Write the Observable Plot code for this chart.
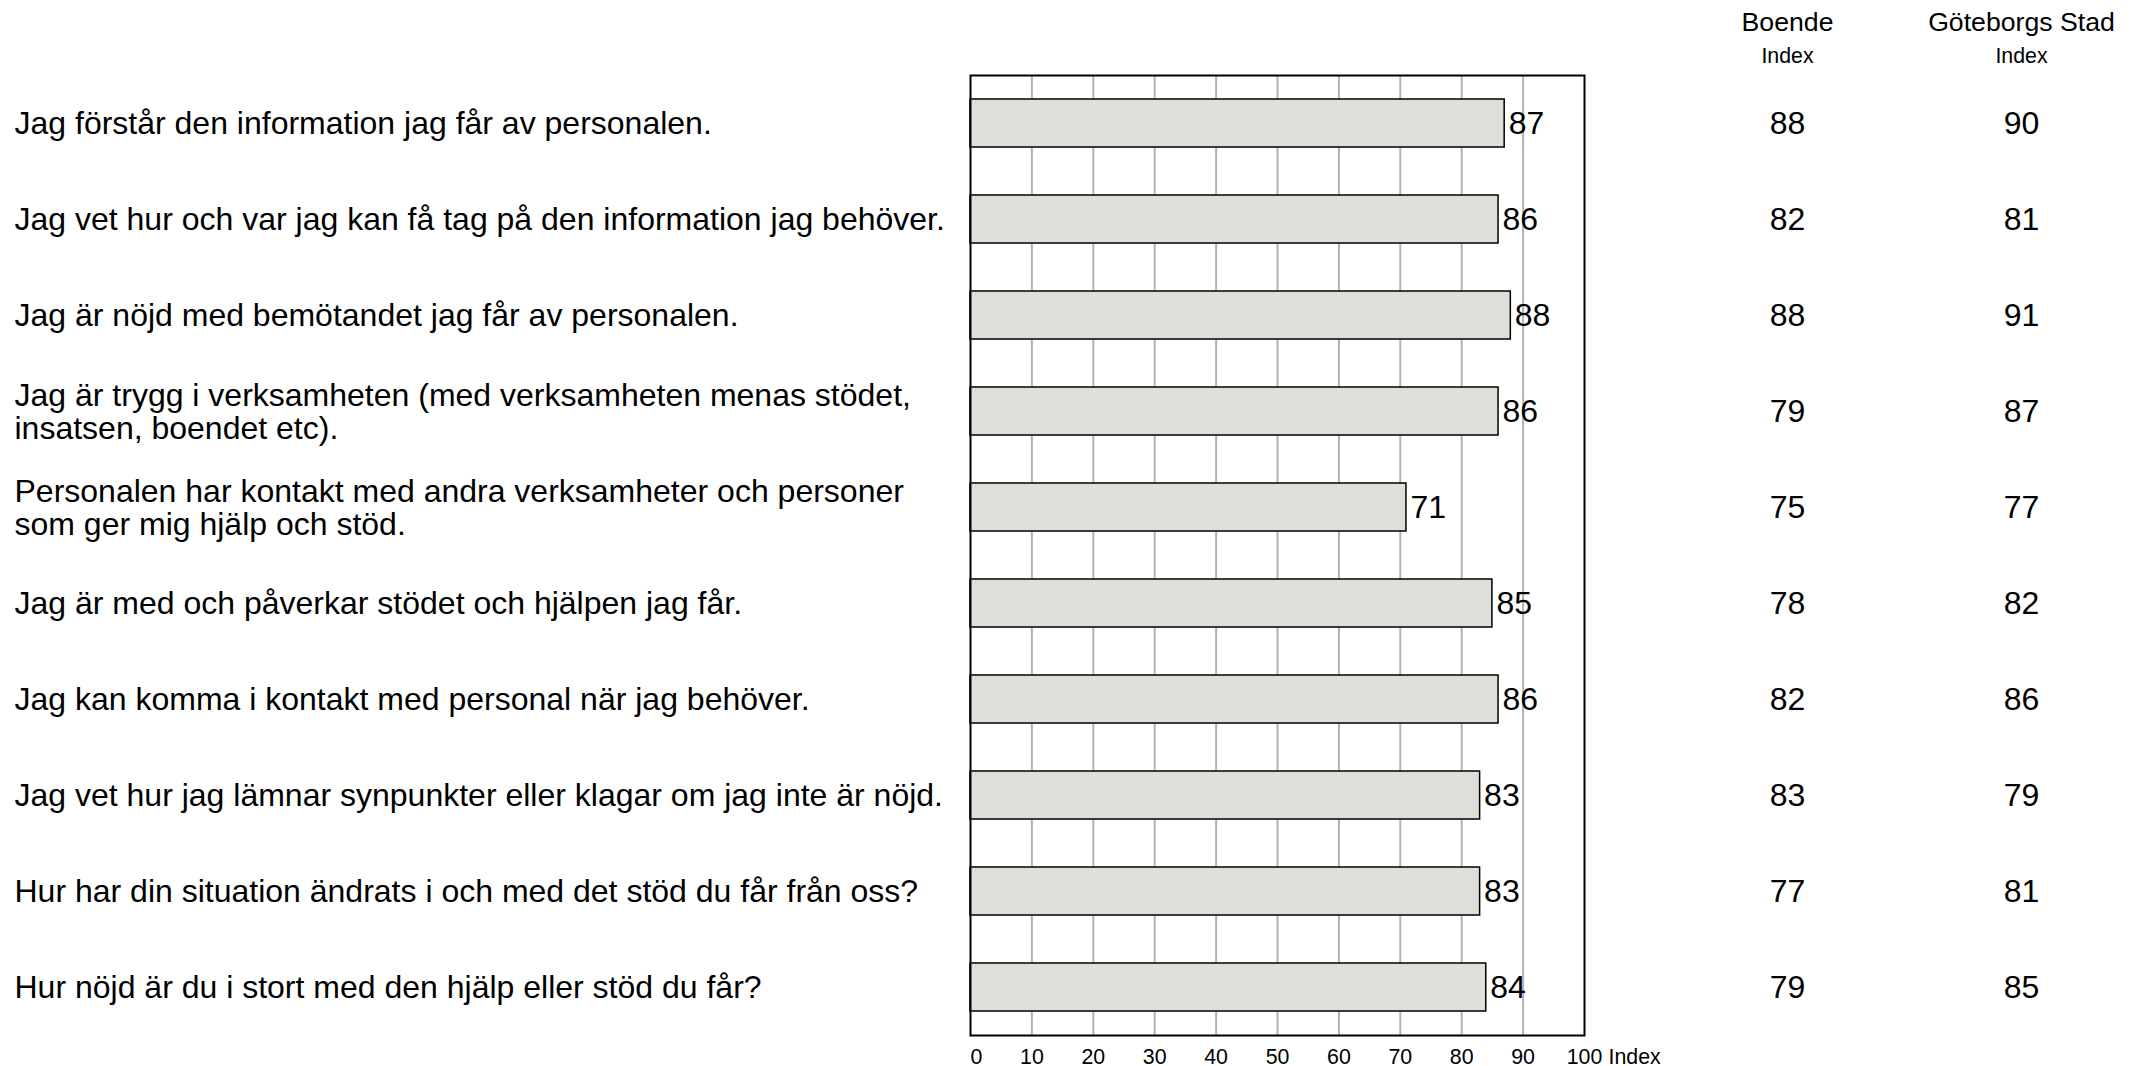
<!DOCTYPE html>
<html>
<head>
<meta charset="utf-8">
<script src="https://cdn.jsdelivr.net/npm/d3@7"></script>
<script src="https://cdn.jsdelivr.net/npm/@observablehq/plot@0.6"></script>
<style>
  html, body { margin: 0; padding: 0; background: white; }
</style>
</head>
<body>
<div id="chart"></div>
<script>
const questions = [
  "Jag förstår den information jag får av personalen.",
  "Jag vet hur och var jag kan få tag på den information jag behöver.",
  "Jag är nöjd med bemötandet jag får av personalen.",
  "Jag är trygg i verksamheten (med verksamheten menas stödet,\ninsatsen, boendet etc).",
  "Personalen har kontakt med andra verksamheter och personer\nsom ger mig hjälp och stöd.",
  "Jag är med och påverkar stödet och hjälpen jag får.",
  "Jag kan komma i kontakt med personal när jag behöver.",
  "Jag vet hur jag lämnar synpunkter eller klagar om jag inte är nöjd.",
  "Hur har din situation ändrats i och med det stöd du får från oss?",
  "Hur nöjd är du i stort med den hjälp eller stöd du får?"
];
const indexValues = [87, 86, 88, 86, 71, 85, 86, 83, 83, 84];
const boendeValues = [88, 82, 88, 79, 75, 78, 82, 83, 77, 79];
const goteborgValues = [90, 81, 91, 87, 77, 82, 86, 79, 81, 85];
const xTicks = [0, 10, 20, 30, 40, 50, 60, 70, 80, 90, 100];
const gridTicks = [10, 20, 30, 40, 50, 60, 70, 80, 90];
const columnHeaders = ["Boende", "Göteborgs Stad"];
const columnSubheader = "Index";
const axisUnit = "Index";

const data = questions.map((q, i) => ({
  q, v: indexValues[i], b: boendeValues[i], g: goteborgValues[i]
}));

const BIG = 32, HEAD = 26.67, SMALL = 21.33;
const colBoende = 203, colGbg = 437;
const common = { fill: "black", lineAnchor: "middle" };

const chart = Plot.plot({
  width: 2138,
  height: 1066,
  marginLeft: 970,
  marginRight: 554,
  marginTop: 75,
  marginBottom: 31,
  style: { fontFamily: "'Liberation Sans', Arial, sans-serif", background: "white", color: "black", overflow: "visible" },
  x: { domain: [0, 100], axis: null },
  y: { domain: questions, paddingInner: 0.5, paddingOuter: 0.25, axis: null },
  marks: [
    Plot.ruleX(gridTicks, { stroke: "#b3b3b3", strokeWidth: 2 }),
    Plot.barX(data, { x: "v", y: "q", fill: "#dfdfda", stroke: "black", strokeWidth: 1.5 }),
    Plot.frame({ stroke: "black", strokeWidth: 2 }),
    // x tick labels
    Plot.text(xTicks.filter(d => d === 0), { x: d => d, text: d => String(d), frameAnchor: "bottom", dy: 22, textAnchor: "start", fontSize: SMALL, ...common }),
    Plot.text(xTicks.filter(d => d !== 0), { x: d => d, text: d => String(d), frameAnchor: "bottom", dy: 22, textAnchor: "middle", fontSize: SMALL, ...common }),
    Plot.text([axisUnit], { frameAnchor: "bottom-right", dx: 24, dy: 22, textAnchor: "start", fontSize: SMALL, ...common }),
    // category labels
    Plot.text(data, { y: "q", text: "q", frameAnchor: "left", dx: -956, textAnchor: "start", fontSize: BIG, lineHeight: 1.03, ...common }),
    // bar value labels
    Plot.text(data, { x: "v", y: "q", text: d => String(d.v), textAnchor: "start", dx: 4, fontSize: BIG, ...common }),
    // comparison columns
    Plot.text(data, { y: "q", text: d => String(d.b), frameAnchor: "right", dx: colBoende, textAnchor: "middle", fontSize: BIG, ...common }),
    Plot.text(data, { y: "q", text: d => String(d.g), frameAnchor: "right", dx: colGbg, textAnchor: "middle", fontSize: BIG, ...common }),
    Plot.text([columnHeaders[0]], { frameAnchor: "top-right", dx: colBoende, dy: -53, textAnchor: "middle", fontSize: HEAD, ...common }),
    Plot.text([columnHeaders[1]], { frameAnchor: "top-right", dx: colGbg, dy: -53, textAnchor: "middle", fontSize: HEAD, ...common }),
    Plot.text([columnSubheader], { frameAnchor: "top-right", dx: colBoende, dy: -19, textAnchor: "middle", fontSize: SMALL, ...common }),
    Plot.text([columnSubheader], { frameAnchor: "top-right", dx: colGbg, dy: -19, textAnchor: "middle", fontSize: SMALL, ...common })
  ]
});
document.getElementById("chart").appendChild(chart);
</script>
</body>
</html>
